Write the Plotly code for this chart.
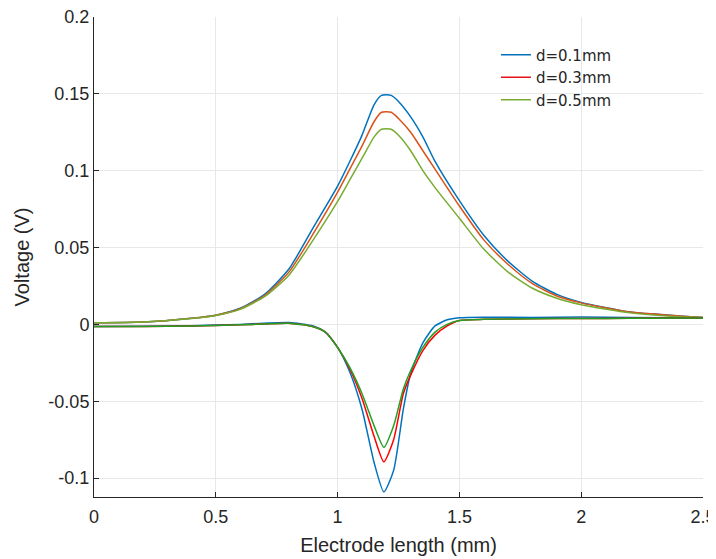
import plotly.graph_objects as go

# Upper (positive) curves
x_up = [0, 0.2, 0.4, 0.5, 0.6, 0.7, 0.8, 0.9, 1.0, 1.05, 1.1, 1.15, 1.18, 1.22, 1.25,
        1.3, 1.35, 1.4, 1.5, 1.6, 1.7, 1.8, 1.9, 2.0, 2.2, 2.4, 2.5]
up_01 = [0.001, 0.0015, 0.004, 0.006, 0.0105, 0.0195, 0.036, 0.063, 0.090, 0.106, 0.123,
         0.143, 0.149, 0.149, 0.145, 0.135, 0.122, 0.106, 0.0805, 0.058, 0.041, 0.028,
         0.0195, 0.0143, 0.008, 0.0055, 0.0045]
up_03 = [0.001, 0.0015, 0.004, 0.006, 0.0102, 0.0188, 0.034, 0.059, 0.086, 0.101, 0.116,
         0.132, 0.138, 0.138, 0.134, 0.125, 0.113, 0.101, 0.077, 0.055, 0.039, 0.0265,
         0.0185, 0.014, 0.008, 0.0055, 0.0045]
up_05 = [0.001, 0.0015, 0.0038, 0.0058, 0.0098, 0.018, 0.032, 0.055, 0.080, 0.094, 0.108,
         0.122, 0.127, 0.127, 0.123, 0.113, 0.100, 0.089, 0.069, 0.049, 0.034, 0.0235,
         0.017, 0.0128, 0.0075, 0.005, 0.0045]

# Lower (negative) curves
x_lo = [0, 0.2, 0.4, 0.6, 0.7, 0.8, 0.9, 0.95, 1.0, 1.05, 1.1, 1.15, 1.19, 1.23, 1.27,
        1.3, 1.35, 1.4, 1.45, 1.5, 1.6, 1.8, 2.0, 2.2, 2.5]
lo_01 = [-0.0013, -0.0012, -0.0008, 0.0, 0.0008, 0.0012, -0.001, -0.005, -0.015, -0.031,
         -0.055, -0.090, -0.109, -0.095, -0.055, -0.032, -0.012, -0.001, 0.003, 0.0043,
         0.0047, 0.0045, 0.0048, 0.0045, 0.0042]
lo_03 = [-0.0013, -0.0013, -0.001, -0.0003, 0.0003, 0.0008, -0.0015, -0.005, -0.015, -0.029,
         -0.048, -0.073, -0.0895, -0.075, -0.045, -0.033, -0.017, -0.007, -0.001, 0.0025,
         0.0033, 0.0037, 0.0038, 0.004, 0.0042]
lo_05 = [-0.0013, -0.0013, -0.001, -0.0003, 0.0003, 0.0008, -0.0015, -0.005, -0.015, -0.028,
         -0.045, -0.066, -0.080, -0.066, -0.042, -0.030, -0.015, -0.005, 0.0, 0.0025,
         0.0033, 0.0037, 0.0038, 0.004, 0.0042]

labels = ["d=0.1mm", "d=0.3mm", "d=0.5mm"]
y_ticks = [-0.1, -0.05, 0, 0.05, 0.1, 0.15, 0.2]
y_ticktext = ["-0.1", "-0.05", "0", "0.05", "0.1", "0.15", "0.2"]
x_ticks = [0, 0.5, 1, 1.5, 2, 2.5]
x_ticktext = ["0", "0.5", "1", "1.5", "2", "2.5"]

up_colors = ["#0072BD", "#D95319", "#77AC30"]
lo_colors = ["#0072BD", "#FF0000", "#22A022"]
legend_colors = ["#0072BD", "#E3141A", "#77AC30"]

fig = go.Figure()
for ys, c in zip([up_01, up_03, up_05], up_colors):
    fig.add_trace(go.Scatter(x=x_up, y=ys, mode="lines",
                             line=dict(color=c, width=1.5, shape="spline", smoothing=0.6),
                             showlegend=False, hoverinfo="skip"))
for ys, c in zip([lo_01, lo_03, lo_05], lo_colors):
    fig.add_trace(go.Scatter(x=x_lo, y=ys, mode="lines",
                             line=dict(color=c, width=1.5, shape="spline", smoothing=0.6),
                             showlegend=False, hoverinfo="skip"))
for lab, c in zip(labels, legend_colors):
    fig.add_trace(go.Scatter(x=[None], y=[None], mode="lines", name=lab,
                             line=dict(color=c, width=1.5)))

FONT = "Liberation Sans, Arial, sans-serif"
axis_common = dict(
    showgrid=True, gridcolor="#E8E8E8", gridwidth=1,
    showline=True, linecolor="#262626", linewidth=1,
    ticks="inside", ticklen=5, tickcolor="#262626",
    zeroline=False, automargin=False, ticklabeloverflow="allow",
    tickfont=dict(family=FONT, size=18, color="#262626"),
)

# The page body has an 8px margin, so the figure is offset by 8px in the window.
fig.update_layout(
    width=716, height=559,
    margin=dict(l=86, r=21, t=9, b=70),
    paper_bgcolor="white", plot_bgcolor="white",
    xaxis=dict(range=[0, 2.5], tickvals=x_ticks, ticktext=x_ticktext,
               ticklabelstandoff=3,
               title=dict(text="Electrode length (mm)", standoff=12,
                          font=dict(family=FONT, size=20, color="#262626")),
               **axis_common),
    yaxis=dict(range=[-0.1123, 0.2], tickvals=y_ticks, ticktext=y_ticktext,
               title=dict(text="Voltage (V)", standoff=13,
                          font=dict(family=FONT, size=20, color="#262626")),
               **axis_common),
    legend=dict(x=0.66, y=0.955, xanchor="left", yanchor="top",
                bgcolor="rgba(255,255,255,0)", borderwidth=0,
                font=dict(family="DejaVu Sans, sans-serif", size=15, color="#262626"),
                tracegroupgap=0, itemwidth=30),
)

fig.write_html("out.html")
